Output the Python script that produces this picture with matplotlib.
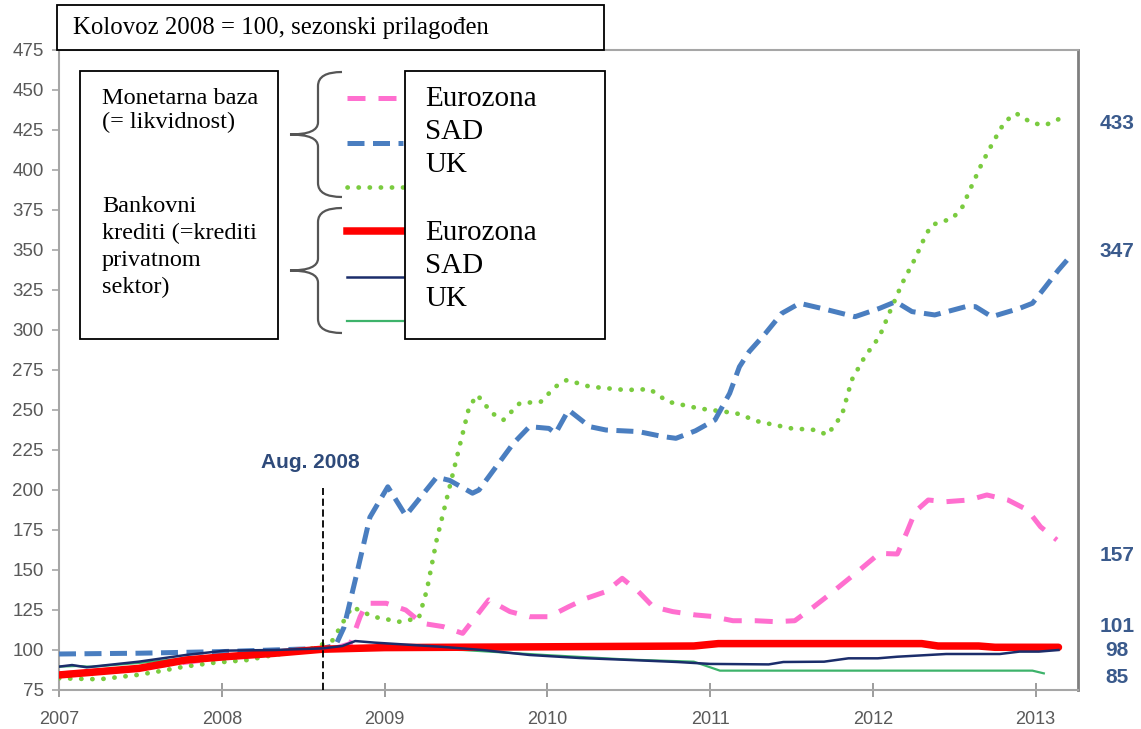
import matplotlib
matplotlib.use("Agg")
import matplotlib.pyplot as plt
from matplotlib.path import Path
from matplotlib.patches import PathPatch, Rectangle
from matplotlib.lines import Line2D
import matplotlib.transforms as mtransforms

# Monetarna baza (monetary base), Kolovoz 2008 = 100
ez_base_x = [2007.0, 2007.5, 2008.0, 2008.5, 2008.66, 2008.79, 2008.85, 2008.89, 2009.01, 2009.13,
             2009.23, 2009.36, 2009.48, 2009.56, 2009.64, 2009.77, 2009.89, 2010.01, 2010.13, 2010.24,
             2010.36, 2010.46, 2010.56, 2010.65, 2010.77, 2010.91, 2011.01, 2011.14, 2011.28, 2011.40,
             2011.52, 2011.63, 2011.73, 2011.83, 2011.93, 2012.04, 2012.15, 2012.21, 2012.26, 2012.34,
             2012.45, 2012.59, 2012.70, 2012.83, 2012.95, 2013.03, 2013.13]
ez_base_y = [85, 89, 95, 99.5, 100, 104, 120.8, 129.2, 129.2, 125,
             116.7, 114.6, 110.4, 120.8, 131.3, 124, 120.8, 120.8, 127, 132.3,
             136.5, 144.8, 136.5, 127, 124, 121.9, 121, 118.3, 118.3, 117.7,
             118.3, 126.5, 134.4, 142.7, 151, 160.4, 160, 174, 186.5, 193.75,
             192.7, 193.75, 196.9, 193.75, 187.5, 177, 168.75]

us_base_x = [2007.0, 2007.5, 2008.0, 2008.62, 2008.70, 2008.75, 2008.83, 2008.91, 2009.02, 2009.13,
             2009.32, 2009.40, 2009.54, 2009.58, 2009.79, 2009.89, 2010.01, 2010.05, 2010.13, 2010.26,
             2010.36, 2010.56, 2010.71, 2010.79, 2010.91, 2011.03, 2011.12, 2011.18, 2011.24, 2011.34,
             2011.44, 2011.55, 2011.71, 2011.89, 2012.04, 2012.14, 2012.24, 2012.38, 2012.57, 2012.63,
             2012.73, 2012.90, 2012.98, 2013.06, 2013.14, 2013.22]
us_base_y = [97.5, 98, 99, 101, 103, 114, 148, 183, 202, 184,
             208, 206, 198, 200, 229, 239.6, 238.5, 235.4, 250, 239.6,
             237.5, 236.5, 233.4, 232.3, 237, 243.8, 260.4, 277, 286.5, 297.9,
             310.4, 316.7, 312.9, 308.3, 313.5, 317.7, 311.5, 309.4, 314.6, 314.6,
             308.3, 313.5, 316.7, 327, 337.5, 346.9]

uk_base_x = [2007.0, 2007.25, 2007.48, 2007.6, 2007.77, 2007.95, 2008.16, 2008.32, 2008.53, 2008.68,
             2008.80, 2008.93, 2009.09, 2009.21, 2009.26, 2009.32, 2009.40, 2009.46, 2009.52, 2009.57,
             2009.66, 2009.73, 2009.83, 2009.96, 2010.05, 2010.12, 2010.26, 2010.48, 2010.63, 2010.74,
             2010.93, 2011.16, 2011.30, 2011.50, 2011.65, 2011.72, 2011.81, 2011.87, 2011.95, 2012.04,
             2012.10, 2012.18, 2012.26, 2012.32, 2012.36, 2012.49, 2012.55, 2012.60, 2012.67, 2012.74,
             2012.81, 2012.88, 2012.98, 2013.06, 2013.14]
uk_base_y = [82.3, 81.7, 84.4, 86.4, 89.6, 92, 93.75, 96.9, 100, 106,
             127, 120.8, 117.7, 119.8, 137.5, 168.8, 202, 227, 252, 259.4,
             248, 243.8, 254.2, 255.2, 264.6, 268.75, 264.6, 262.5, 263, 255.2,
             251, 248, 242.7, 238.5, 237.5, 234.4, 246.9, 268.75, 283.3, 295.8,
             310.4, 329.2, 344.8, 358.3, 365.6, 369.8, 377, 388.5, 404.2, 417.7,
             430.2, 435.4, 429.2, 428.1, 431.7]

# Bankovni krediti (bank lending to private sector)
ez_credit_x = [2007.0, 2007.49, 2007.78, 2008.02, 2008.32, 2008.62, 2009.0, 2010.0, 2010.9, 2011.05,
               2012.3, 2012.4, 2012.65, 2012.75, 2013.14]
ez_credit_y = [84.4, 88.5, 93.75, 95.8, 97.9, 100.5, 101.5, 102, 102.5, 104,
               104, 102.5, 102.5, 101.7, 101.7]

us_credit_x = [2007.0, 2007.08, 2007.17, 2007.49, 2007.78, 2008.02, 2008.32, 2008.62, 2008.74, 2008.82,
               2008.94, 2009.35, 2009.6, 2009.89, 2010.2, 2010.5, 2010.8, 2011.0, 2011.36, 2011.45,
               2011.7, 2011.85, 2012.03, 2012.15, 2012.45, 2012.78, 2012.9, 2013.02, 2013.14]
us_credit_y = [89.6, 90.6, 89.2, 92.7, 96.9, 99.6, 100, 101, 102.5, 105.6,
               104.6, 102, 100, 96.9, 95, 93.8, 92.5, 91.3, 91, 92.5,
               92.7, 94.8, 94.8, 95.8, 97.5, 97.5, 99, 99, 100]

uk_credit_x = [2007.0, 2007.1, 2007.2, 2007.5, 2007.8, 2008.0, 2008.3, 2008.62, 2009.0, 2009.48,
               2009.98, 2010.5, 2010.9, 2011.06, 2012.98, 2013.05]
uk_credit_y = [89.6, 90, 89.5, 92, 95, 97, 98.5, 100, 101, 100,
               96.9, 94, 92.7, 87.1, 87.1, 85.4]

end_labels = ["433", "347", "157", "101", "98", "85"]
end_label_pos = [429, 349, 159, 115, 99.5, 83]

years = [2007, 2008, 2009, 2010, 2011, 2012, 2013]
y_ticks = list(range(75, 476, 25))

W, H = 1141, 729
fig = plt.figure(figsize=(W / 100, H / 100), dpi=100)
ax = fig.add_axes([59 / W, 1 - 690 / H, (1078 - 59) / W, (690 - 50) / H])

c_pink = "#FF6FCF"
c_blue = "#4A7EC0"
c_lgreen = "#7ACB3F"
c_red = "#FF0000"
c_navy = "#1B2D6B"
c_green = "#3DB36B"

ax.plot(ez_base_x, ez_base_y, color=c_pink, lw=3.6, dashes=(3.6, 2.6), zorder=3)
ax.plot(uk_base_x, uk_base_y, color=c_lgreen, lw=3.4, dashes=(0.05, 2.3),
        dash_capstyle="round", zorder=3)
ax.plot(us_base_x, us_base_y, color=c_blue, lw=3.6, dashes=(3.4, 1.7), zorder=4)
ax.plot(uk_credit_x, uk_credit_y, color=c_green, lw=1.6, zorder=5)
ax.plot(ez_credit_x, ez_credit_y, color=c_red, lw=5.4, zorder=5, solid_capstyle="round")
ax.plot(us_credit_x, us_credit_y, color=c_navy, lw=1.8, zorder=6)

sans = ["Liberation Sans", "DejaVu Sans"]

# Aug. 2008 marker
ax.plot([2008.62, 2008.62], [75, 201], color="black", lw=1.3, dashes=(4, 2), zorder=7)
ax.text(2008.545, 211, "Aug. 2008", ha="center", va="bottom", fontsize=15,
        fontweight="bold", color="#2E4A7A", family=sans)

ax.set_xlim(2007, 2013.26)
ax.set_ylim(75, 475)
ax.set_xticks(years)
ax.set_yticks(y_ticks)
ax.set_xticklabels([str(y) for y in years], family=sans, fontsize=13, color="#595959")
ax.set_yticklabels([str(v) for v in y_ticks], family=sans, fontsize=13.5, color="#595959")
ax.tick_params(axis="x", direction="inout", length=10, width=1.2, color="#8C8C8C", pad=10)
ax.tick_params(axis="y", direction="out", length=5, width=1.2, color="#A6A6A6", pad=6)
for s in ["left", "bottom", "top"]:
    ax.spines[s].set_color("#A6A6A6")
    ax.spines[s].set_linewidth(1.5)
ax.spines["right"].set_color("#7F7F7F")
ax.spines["right"].set_linewidth(2)

trans = mtransforms.blended_transform_factory(ax.transAxes, ax.transData)
for lab, pos in zip(end_labels, end_label_pos):
    ax.text(1.038, pos, lab, transform=trans, ha="center", va="center", fontsize=15,
            fontweight="bold", color="#3A5A8C", family=sans)


def px(x, y):
    return (x / W, 1 - y / H)


serif = "Liberation Serif"

# title box
fig.add_artist(Rectangle(px(57, 50), (604 - 57) / W, 45 / H, transform=fig.transFigure,
                         facecolor="white", edgecolor="black", lw=1.3, zorder=10))
fig.text(*px(73, 28), "Kolovoz 2008 = 100, sezonski prilagođen", family=serif,
         fontsize=17.8, va="center", ha="left", zorder=11)

# left legend box
fig.add_artist(Rectangle(px(80, 339), (278 - 80) / W, (339 - 71) / H, transform=fig.transFigure,
                         facecolor="white", edgecolor="black", lw=1.3, zorder=10))
left_lines = [("Monetarna baza", 98), ("(= likvidnost)", 122), ("Bankovni", 206),
              ("krediti (=krediti", 233), ("privatnom", 260), ("sektor)", 287)]
for t, yy in left_lines:
    fig.text(*px(102, yy), t, family=serif, fontsize=17.5, va="center", ha="left", zorder=11)

# right legend box
fig.add_artist(Rectangle(px(405, 339), (605 - 405) / W, (339 - 71) / H, transform=fig.transFigure,
                         facecolor="white", edgecolor="black", lw=1.3, zorder=10))
right_lines = [("Eurozona", 99), ("SAD", 132), ("UK", 165), ("Eurozona", 233), ("SAD", 266), ("UK", 299)]
for t, yy in right_lines:
    fig.text(*px(425, yy), t, family=serif, fontsize=21, va="center", ha="left", zorder=11)

# legend line samples
samples = [
    (98, dict(color=c_pink, lw=3.6, dashes=(3.6, 2.6))),
    (143, dict(color=c_blue, lw=3.6, dashes=(3.4, 1.7))),
    (187, dict(color=c_lgreen, lw=3.4, dashes=(0.05, 2.3), dash_capstyle="round")),
    (231, dict(color=c_red, lw=5.4)),
    (277, dict(color=c_navy, lw=1.8)),
    (321, dict(color=c_green, lw=1.6)),
]
for yy, kw in samples:
    (x0, y0), (x1, _) = px(347, yy), px(403, yy)
    fig.add_artist(Line2D([x0, x1], [y0, y0], transform=fig.transFigure, zorder=9, **kw))


def brace(y_top, y_bot, x_end=342, x_mid=318, x_tip=290):
    y_c = (y_top + y_bot) / 2
    verts = [(x_end, y_top), (x_mid, y_top), (x_mid, y_top + 14),
             (x_mid, y_c - 12),
             (x_mid, y_c), (x_tip, y_c),
             (x_mid, y_c), (x_mid, y_c + 12),
             (x_mid, y_bot - 14),
             (x_mid, y_bot), (x_end, y_bot)]
    codes = [Path.MOVETO, Path.CURVE3, Path.CURVE3, Path.LINETO,
             Path.CURVE3, Path.CURVE3, Path.CURVE3, Path.CURVE3,
             Path.LINETO, Path.CURVE3, Path.CURVE3]
    verts = [px(x, y) for x, y in verts]
    fig.add_artist(PathPatch(Path(verts, codes), transform=fig.transFigure, facecolor="none",
                             edgecolor="#555555", lw=1.6, zorder=9))


brace(72, 197)
brace(208, 333)

fig.savefig("out.png", dpi=100)
